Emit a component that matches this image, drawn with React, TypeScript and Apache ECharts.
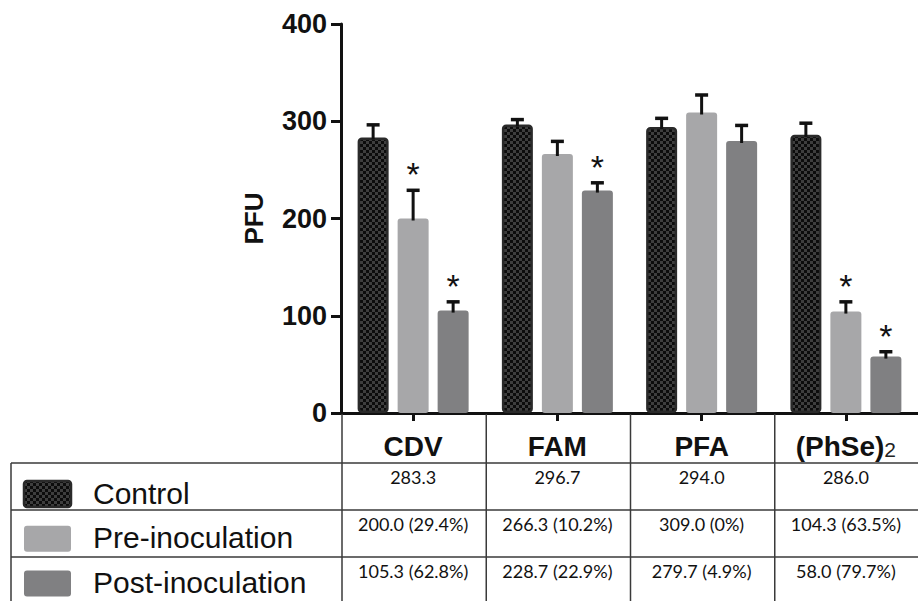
import React, { useEffect, useRef } from "react";
import * as echarts from "echarts";

// ---------- data ----------
const categories = ["CDV", "FAM", "PFA", "(PhSe)2"];
const seriesNames = ["Control", "Pre-inoculation", "Post-inoculation"];
const controlValues = [283.3, 296.7, 294.0, 286.0];
const preValues = [200.0, 266.3, 309.0, 104.3];
const postValues = [105.3, 228.7, 279.7, 58.0];
const controlErr = [13, 5, 9, 12];
const preErr = [29, 13, 18, 10];
const postErr = [9, 8, 16, 5];
const controlSig = [false, false, false, false];
const preSig = [true, false, false, true];
const postSig = [true, true, false, true];
const controlCells = ["283.3", "296.7", "294.0", "286.0"];
const preCells = ["200.0 (29.4%)", "266.3 (10.2%)", "309.0 (0%)", "104.3 (63.5%)"];
const postCells = ["105.3 (62.8%)", "228.7 (22.9%)", "279.7 (4.9%)", "58.0 (79.7%)"];
const yTicks = [0, 100, 200, 300, 400];

// ---------- style ----------
const ARIAL = "'Liberation Sans', Arial, Helvetica, sans-serif";
const CELL_FONT = "Lato, 'Open Sans', sans-serif";
const INK = "#111111";
const BAR_W = 31;
const BAR_GAP = 9;
const PRE_COLOR = "#a7a7a9";
const POST_COLOR = "#808082";
const CTRL_BORDER = "#2a2a2a";
const LINE_COLOR = "#3a3a3a";
const TABLE_LEFT = 11;
const HEADER_H = 50;
const ROW_H = 47;
const LEGEND_STEP = 44.7;

function makeChecker(): HTMLCanvasElement {
  const c = document.createElement("canvas");
  c.width = 6;
  c.height = 6;
  const ctx = c.getContext("2d")!;
  ctx.fillStyle = "#3e3e3e";
  ctx.fillRect(0, 0, 6, 6);
  ctx.fillStyle = "#0c0c0c";
  ctx.fillRect(0, 0, 3, 3);
  ctx.fillRect(3, 3, 3, 3);
  return c;
}

export default function App() {
  const ref = useRef<HTMLDivElement>(null);

  useEffect(() => {
    if (!ref.current) return;
    const chart = echarts.init(ref.current, undefined, { renderer: "svg" });
    const checker = makeChecker();
    const pattern: any = { image: checker, repeat: "repeat" };

    const barValues = [controlValues, preValues, postValues];
    const errValues = [controlErr, preErr, postErr];
    const sigValues = [controlSig, preSig, postSig];
    const barColors: any[] = [pattern, PRE_COLOR, POST_COLOR];

    const barSeries = barValues.map((vals, k) => ({
      type: "bar",
      name: seriesNames[k],
      data: vals,
      barWidth: BAR_W,
      barGap: `${(BAR_GAP / BAR_W) * 100}%`,
      z: 2,
      itemStyle:
        k === 0
          ? { color: pattern, borderColor: CTRL_BORDER, borderWidth: 2.5, borderRadius: 3 }
          : { color: barColors[k], borderRadius: 3 },
    }));

    const errSeries = barValues.map((vals, k) => ({
      type: "custom",
      name: seriesNames[k] + " SD",
      silent: true,
      z: 5,
      encode: { x: 0, y: 1 },
      data: vals.map((v, i) => [i, v, errValues[k][i], sigValues[k][i] ? 1 : 0]),
      renderItem: (params: any, api: any) => {
        const i = api.value(0);
        const v = api.value(1);
        const e = api.value(2);
        const s = api.value(3);
        const p0 = api.coord([i, v]);
        const p1 = api.coord([i, v + e]);
        const x = p0[0] + (k - 1) * (BAR_W + BAR_GAP);
        const children: any[] = [
          {
            type: "line",
            shape: { x1: x, y1: p0[1] + 2, x2: x, y2: p1[1] },
            style: { stroke: INK, lineWidth: 3 },
          },
          {
            type: "line",
            shape: { x1: x - 6.5, y1: p1[1], x2: x + 6.5, y2: p1[1] },
            style: { stroke: INK, lineWidth: 3.5 },
          },
        ];
        if (s) {
          children.push({
            type: "text",
            x,
            y: p1[1] - 16,
            style: {
              text: "*",
              fontSize: 34,
              fontFamily: ARIAL,
              fill: INK,
              align: "center",
              verticalAlign: "middle",
            },
          });
        }
        return { type: "group", children };
      },
    }));

    chart.setOption({
      animation: false,
      backgroundColor: "#ffffff",
      grid: { left: 341, right: -10, top: 24, bottom: 188, containLabel: false },
      xAxis: {
        type: "category",
        data: categories,
        axisLine: { show: true, lineStyle: { color: INK, width: 3 } },
        axisTick: { show: true, alignWithLabel: true, length: 8, lineStyle: { color: INK, width: 3 } },
        axisLabel: {
          margin: 19,
          formatter: (v: string) => {
            const m = v.match(/^(.*?)(\d+)$/);
            return m ? `{b|${m[1]}}{s|${m[2]}}` : `{b|${v}}`;
          },
          rich: {
            b: { fontSize: 28, fontWeight: "bold", fontFamily: ARIAL, color: INK },
            s: { fontSize: 21, fontWeight: "normal", fontFamily: ARIAL, color: "#222", verticalAlign: "bottom" },
          },
        },
        splitLine: { show: false },
      },
      yAxis: {
        type: "value",
        min: yTicks[0],
        max: yTicks[yTicks.length - 1],
        interval: yTicks[1] - yTicks[0],
        name: "PFU",
        nameLocation: "middle",
        nameGap: 74,
        nameTextStyle: { fontSize: 26, fontWeight: "bold", fontFamily: ARIAL, color: INK },
        axisLine: { show: true, lineStyle: { color: INK, width: 3 } },
        axisTick: { show: true, length: 10, lineStyle: { color: INK, width: 3 } },
        axisLabel: { margin: 14, fontSize: 27, fontWeight: "bold", fontFamily: ARIAL, color: INK },
        splitLine: { show: false },
      },
      series: [...barSeries, ...errSeries],
    });

    // ---------- data table below the axis ----------
    const c0 = chart.convertToPixel({ xAxisIndex: 0 }, 0) as number;
    const c1 = chart.convertToPixel({ xAxisIndex: 0 }, 1) as number;
    const band = c1 - c0;
    const axisY = chart.convertToPixel({ yAxisIndex: 0 }, yTicks[0]) as number;
    const W = 960;
    const H = 640;
    const tableTop = axisY + HEADER_H;
    const rowTops = [0, 1, 2].map((r) => tableTop + r * ROW_H);
    const cellRows = [controlCells, preCells, postCells];

    const g: any[] = [];
    const lineStyle = { stroke: LINE_COLOR, lineWidth: 1.5 };
    // horizontal rules
    [0, 1, 2, 3].forEach((r) => {
      const y = tableTop + r * ROW_H;
      g.push({ type: "line", shape: { x1: TABLE_LEFT, y1: y, x2: W, y2: y }, style: lineStyle, z: 1 });
    });
    // left border
    g.push({
      type: "line",
      shape: { x1: TABLE_LEFT, y1: tableTop, x2: TABLE_LEFT, y2: H },
      style: lineStyle,
      z: 1,
    });
    // column boundaries
    for (let j = 0; j <= categories.length; j++) {
      const x = c0 - band / 2 + j * band + 1;
      g.push({ type: "line", shape: { x1: x, y1: axisY + 1, x2: x, y2: H }, style: lineStyle, z: 1 });
    }
    // cell texts
    cellRows.forEach((cells, r) => {
      cells.forEach((t, i) => {
        const x = chart.convertToPixel({ xAxisIndex: 0 }, i) as number;
        g.push({
          type: "text",
          x,
          y: rowTops[r] + 14,
          style: {
            text: t,
            fontSize: 18,
            fontFamily: CELL_FONT,
            fill: "#111",
            align: "center",
            verticalAlign: "middle",
          },
          z: 2,
        });
      });
    });
    // legend swatches + labels inside the table
    seriesNames.forEach((name, r) => {
      const top = tableTop + 18 + r * LEGEND_STEP;
      g.push({
        type: "rect",
        shape: { x: 24, y: top, width: 47, height: 26, r: 3 },
        style:
          r === 0
            ? { fill: pattern, stroke: CTRL_BORDER, lineWidth: 2.5 }
            : { fill: barColors[r] },
        z: 2,
      });
      g.push({
        type: "text",
        x: 93,
        y: top + 12,
        style: {
          text: name,
          fontSize: 30,
          fontFamily: ARIAL,
          fill: INK,
          align: "left",
          verticalAlign: "middle",
        },
        z: 2,
      });
    });

    chart.setOption({ graphic: { elements: g } });

    return () => {
      chart.dispose();
    };
  }, []);

  return (
    <div
      ref={ref}
      style={{ position: "fixed", left: 0, top: 0, width: 918, height: 601, background: "#fff" }}
    />
  );
}
